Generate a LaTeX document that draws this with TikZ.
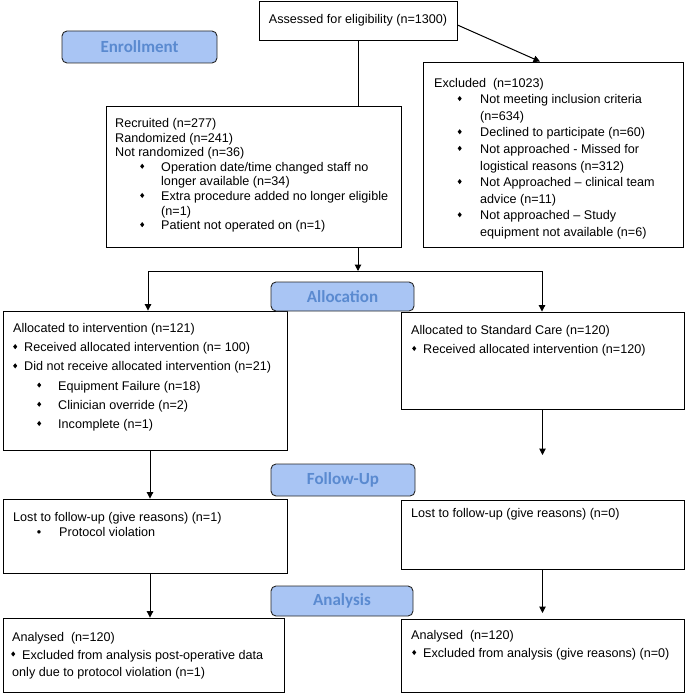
\documentclass[tikz,border=0pt]{standalone}
\usepackage{fontspec}
\setmainfont{Liberation Sans}
\newfontfamily\pillfont{Carlito}
\usepackage{graphicx}
\usetikzlibrary{arrows.meta}
\definecolor{pillfill}{HTML}{A9C5F4}
\definecolor{pilltext}{HTML}{5A8AD0}
\newcommand{\dia}{\raisebox{2.5pt}{\scalebox{0.8}[1]{\rotatebox{45}{\rule{3.6pt}{3.6pt}}}}}
\newcommand{\bit}[3]{\hspace*{#1pt}\makebox[0pt][c]{#2}\hspace*{#3pt}}
\newcommand{\fsz}[1]{\fontsize{12.6}{#1}\selectfont}
\newcommand{\tb}[1]{\begin{tabular}[t]{@{}l@{}}#1\end{tabular}}
\begin{document}
\begin{tikzpicture}[x=1pt,y=-1pt,
  box/.style={draw=black,line width=0.9pt,fill=white,inner sep=0pt},
  pill/.style={draw=black!85,line width=0.9pt,fill=pillfill,rounded corners=5pt,inner sep=0pt,
    font=\pillfont\bfseries\fontsize{17}{18}\selectfont,text=pilltext},
  txt/.style={anchor=base west,inner sep=0pt},
  conn/.style={line width=1pt},
  arr/.style={line width=1pt,-{Triangle[length=6.5pt,width=6.5pt]}}]
\useasboundingbox (0,0) rectangle (685,693);
% boxes
\node[box,minimum width=198pt,minimum height=39pt] (assess) at (358,20.5) {};
\node[box,minimum width=295pt,minimum height=141pt] (recruit) at (253.5,176.5) {};
\node[box,minimum width=260pt,minimum height=185pt] (excl) at (553,154.5) {};
\node[box,minimum width=284pt,minimum height=139pt] (allocL) at (145,380.5) {};
\node[box,minimum width=283pt,minimum height=97pt] (allocR) at (542.5,360.5) {};
\node[box,minimum width=284pt,minimum height=74pt] (fuL) at (145,536) {};
\node[box,minimum width=283pt,minimum height=69pt] (fuR) at (542.5,534.5) {};
\node[box,minimum width=281pt,minimum height=74pt] (anL) at (143.5,655) {};
\node[box,minimum width=283pt,minimum height=73pt] (anR) at (542.5,655.5) {};
% pills
\node[pill,minimum width=155pt,minimum height=32pt] (enroll) at (139.5,47) {Enrollment};
\node[pill,minimum width=143pt,minimum height=29pt] (alloc) at (342.5,296.5) {Allocation};
\node[pill,minimum width=144pt,minimum height=32pt] (follow) at (343,480) {Follow-Up};
\node[pill,minimum width=142pt,minimum height=30pt] (analysis) at (342,601) {Analysis};
% texts
\node[anchor=base,inner sep=0pt,font=\fsz{15}] (assess-t) at (358,23.5) {Assessed for eligibility (n=1300)};
\node[txt,font=\fsz{14.6}] (recruit-t) at (115,127.5) {\tb{%
Recruited (n=277)\\
Randomized (n=241)\\
Not randomized (n=36)\\
\bit{27}{\dia}{19}Operation date/time changed staff no\\
\hspace*{46pt}longer available (n=34)\\
\bit{27}{\dia}{19}Extra procedure added no longer eligible\\
\hspace*{46pt}(n=1)\\
\bit{27}{\dia}{19}Patient not operated on (n=1)}};
\node[txt,font=\fsz{16.6}] (excl-t) at (434,87) {\tb{%
Excluded\ \ (n=1023)\\
\bit{25.5}{\dia}{20.5}Not meeting inclusion criteria\\
\hspace*{46pt}(n=634)\\
\bit{25.5}{\dia}{20.5}Declined to participate (n=60)\\
\bit{25.5}{\dia}{20.5}Not approached - Missed for\\
\hspace*{46pt}logistical reasons (n=312)\\
\bit{25.5}{\dia}{20.5}Not Approached -- clinical team\\
\hspace*{46pt}advice (n=11)\\
\bit{25.5}{\dia}{20.5}Not approached -- Study\\
\hspace*{46pt}equipment not available (n=6)}};
\node[txt,font=\fsz{19.2}] (allocL-t) at (13,332.5) {\tb{%
Allocated to intervention (n=121)\\
\bit{2}{\dia}{9}Received allocated intervention (n= 100)\\
\bit{2}{\dia}{9}Did not receive allocated intervention (n=21)\\
\bit{26}{\dia}{19}Equipment Failure (n=18)\\
\bit{26}{\dia}{19}Clinician override (n=2)\\
\bit{26}{\dia}{19}Incomplete (n=1)}};
\node[txt,font=\fsz{19}] (allocR-t) at (411,334.5) {\tb{%
Allocated to Standard Care (n=120)\\
\bit{3}{\dia}{9}Received allocated intervention (n=120)}};
\node[txt,font=\fsz{15}] (fuL-t) at (13,521.5) {\tb{%
Lost to follow-up (give reasons) (n=1)\\
\bit{26}{\textbullet}{20}Protocol violation}};
\node[txt,font=\fsz{15}] (fuR-t) at (411,517.5) {Lost to follow-up (give reasons) (n=0)};
\node[txt,font=\fsz{17.5}] (anL-t) at (12,641.5) {\tb{%
Analysed\ \ (n=120)\\
\bit{1}{\dia}{9}Excluded from analysis post-operative data\\
only due to protocol violation (n=1)}};
\node[txt,font=\fsz{18}] (anR-t) at (411,639.5) {\tb{%
Analysed\ \ (n=120)\\
\bit{3}{\dia}{9}Excluded from analysis (give reasons) (n=0)}};
% coordinates
\coordinate (split) at (358,271);
\coordinate (splitL) at (148,271);
\coordinate (splitR) at (542,271);
\coordinate (colL) at (150,0);
\coordinate (colR) at (542.5,0);
\coordinate (freeR1) at (542.5,455);
\coordinate (freeR2) at (542.5,613);
% connectors
\draw[conn] (assess.south) -- (assess.south |- recruit.north);
\draw[arr] ([yshift=-4.5pt]assess.east) -- ([xshift=-13pt]excl.north);
\draw[arr] (split |- recruit.south) -- (split);
\draw[conn] (splitL) -- (splitR);
\draw[arr] (splitL) -- (splitL |- allocL.north);
\draw[arr] (splitR) -- (splitR |- allocR.north);
\draw[arr] (allocL.south -| colL) -- (fuL.north -| colL);
\draw[arr] (allocR.south -| colR) -- (freeR1);
\draw[arr] (fuL.south -| colL) -- (anL.north -| colL);
\draw[arr] (fuR.south -| colR) -- (freeR2);
\end{tikzpicture}
\end{document}
